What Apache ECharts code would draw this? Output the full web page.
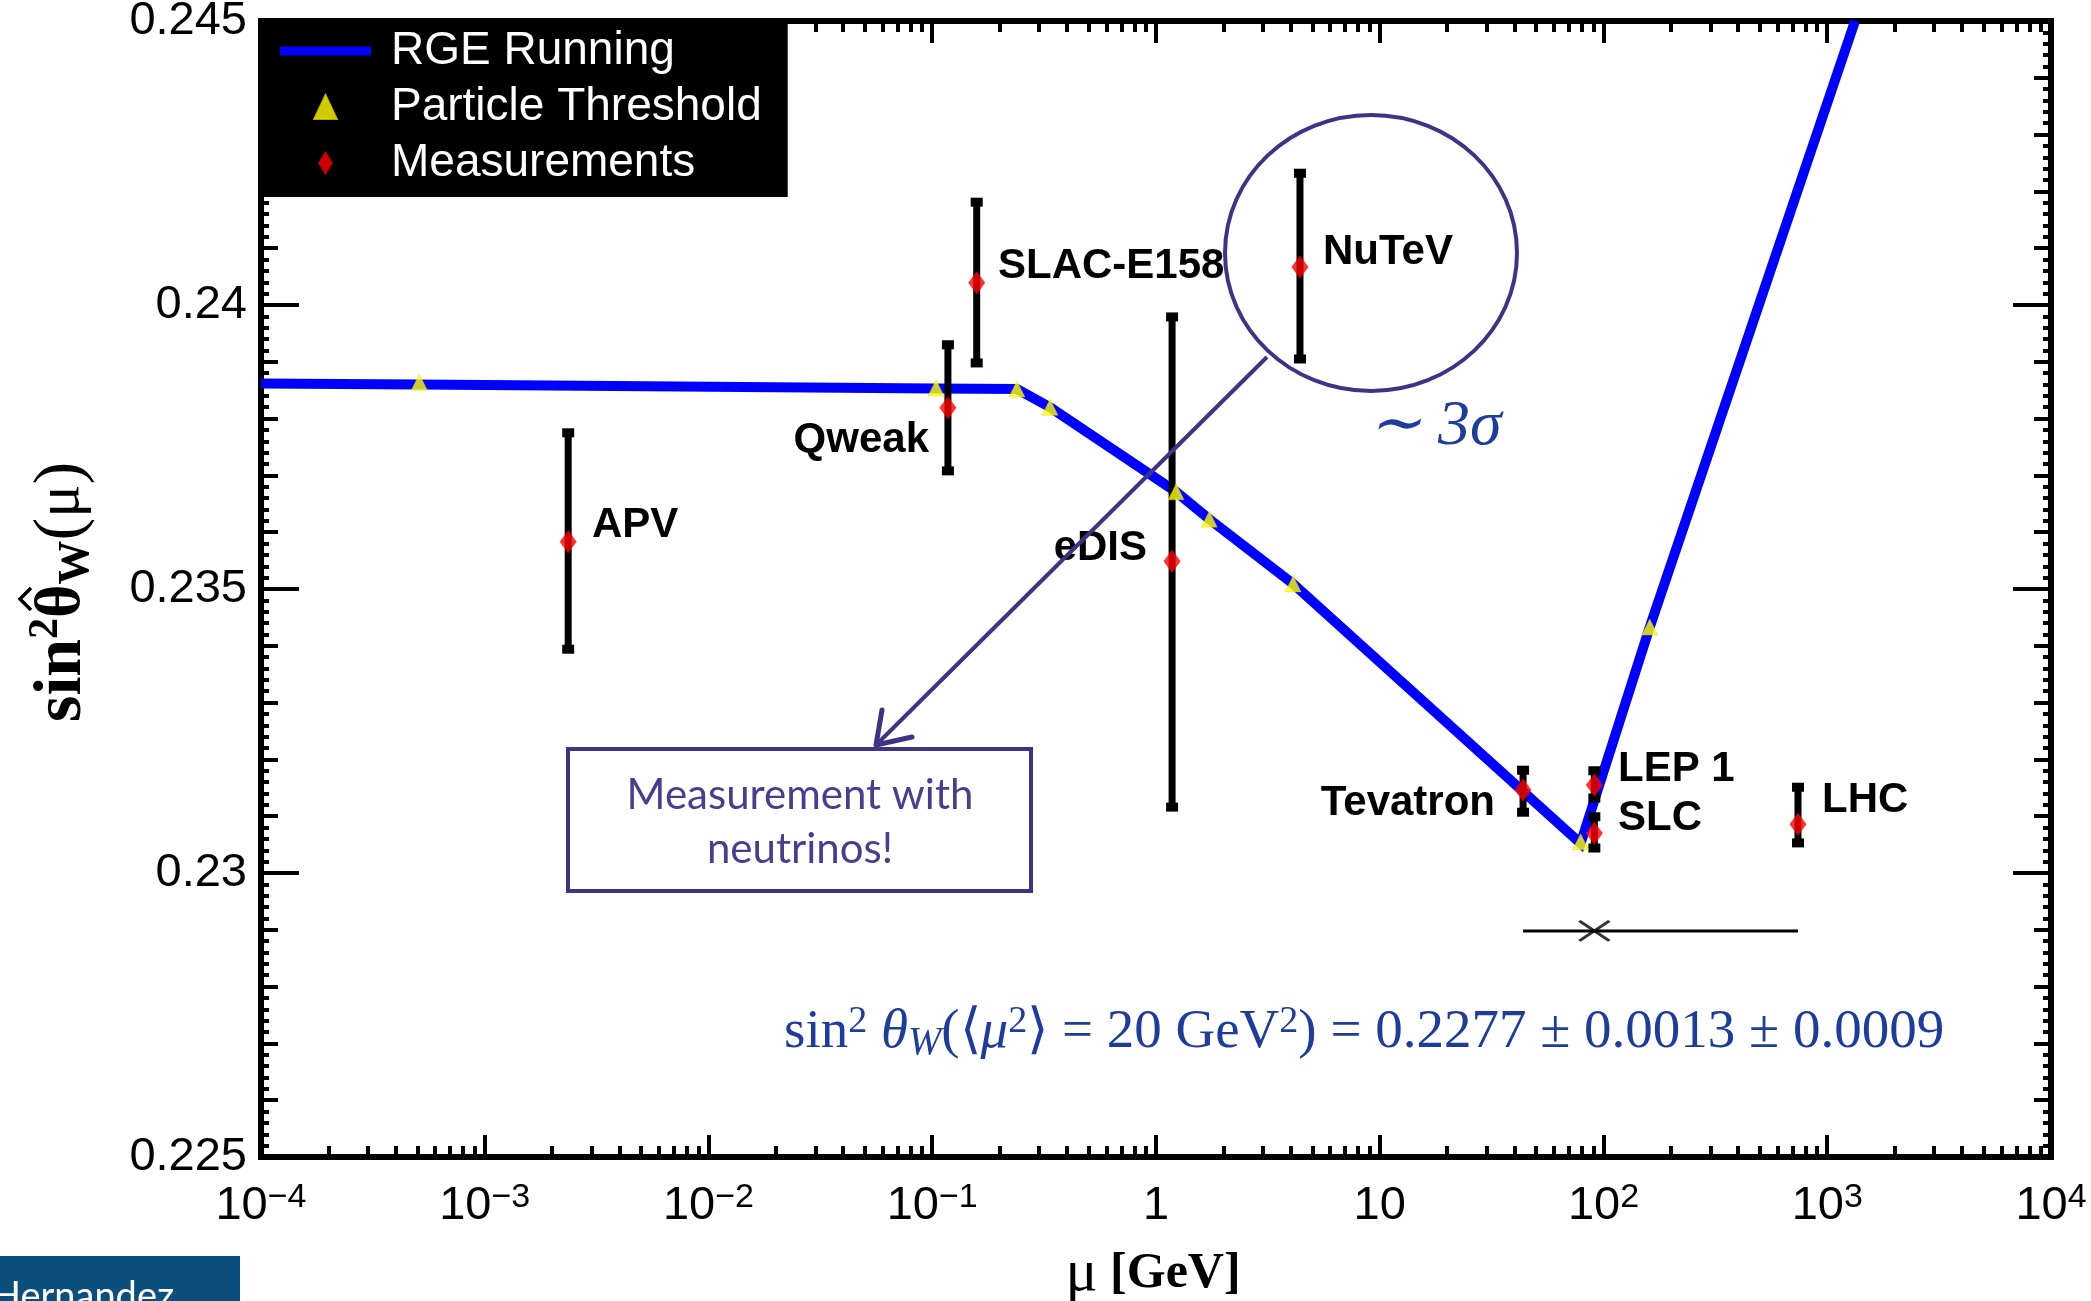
<!DOCTYPE html>
<html><head><meta charset="utf-8">
<script src="https://cdn.jsdelivr.net/npm/echarts@6/dist/echarts.min.js"></script>
<style>html,body{margin:0;padding:0;background:#fff}#c{width:2091px;height:1301px}</style>
</head><body><div id="c"></div>
<script>
// ---------- data ----------
const rgeMu  = [1e-4, 5.1e-4, 0.104, 0.239, 0.336, 1.23, 1.73, 4.1, 79, 161, 1331];
const rgeS2w = [0.23862, 0.23860, 0.23853, 0.23852, 0.23820, 0.23671, 0.23623, 0.23509, 0.23052, 0.23433, 0.245];
const thrMu  = [5.1e-4, 0.104, 0.239, 0.336, 1.23, 1.73, 4.1, 79, 161];
const thrS2w = [0.23864, 0.23854, 0.23852, 0.23820, 0.23671, 0.23623, 0.23509, 0.23055, 0.23433];
const measNames = ['APV', 'Qweak', 'SLAC-E158', 'eDIS', 'NuTeV', 'Tevatron', 'LEP 1', 'SLC', 'LHC'];
const measMu  = [0.00236, 0.1175, 0.158, 1.18, 4.40, 43.7, 91, 91, 740];
const measS2w = [0.23583, 0.23819, 0.24039, 0.23549, 0.24067, 0.23146, 0.23155, 0.23070, 0.23086];
const measLo  = [0.23394, 0.23708, 0.23898, 0.23116, 0.23905, 0.23107, 0.23132, 0.23044, 0.23053];
const measHi  = [0.23775, 0.23930, 0.24181, 0.23979, 0.24232, 0.23181, 0.23180, 0.23099, 0.23151];
const spanMu  = [43.7, 740];
const spanS2w = [0.22898, 0.22898];
const crossMu = [91];
const crossS2w = [0.22898];
const xTickLabels = ['10^−4', '10^−3', '10^−2', '10^−1', '1', '10', '10^2', '10^3', '10^4'];
const yTickLabels = ['0.225', '0.23', '0.235', '0.24', '0.245'];

// ---------- styling ----------
const SANS = "'Liberation Sans',Arial,Helvetica,sans-serif";
const SERIF = "'Liberation Serif','Times New Roman',serif";
const PURPLE = '#3f3386';
const FBLUE = '#1d3c9c';
// label placement per measurement: side, gap from centre, vertical shift
const labelSide = ['right', 'left', 'right', 'left', 'right', 'left', 'right', 'right', 'right'];
const labelGap  = [24, 19, 21, 25, 23, 28, 24, 24, 24];
const labelDy   = [-17, 32, -17, -13, -15, 13, -16, -15, -24];

const decades = [];
for (let e = -4; e <= 4; e++) decades.push(Math.pow(10, e));
const minorX = [];
for (let e = -4; e < 4; e++) for (let k = 2; k <= 9; k++) minorX.push(k * Math.pow(10, e));

const tickStyle = { color: '#000', width: 4 };
function xAxisDef(pos, ticks, len, labels) {
  return {
    type: 'log', logBase: 10, min: 1e-4, max: 1e4, position: pos,
    axisLine: { show: false, onZero: false },
    splitLine: { show: false },
    axisTick: { show: true, inside: true, length: len, lineStyle: tickStyle, customValues: ticks },
    axisLabel: labels ? {
      show: true, margin: 24, customValues: decades,
      formatter: function (v) {
        const i = Math.round(Math.log10(v)) + 4;
        const parts = xTickLabels[i].split('^');
        return parts.length > 1 ? '{b|' + parts[0] + '}{e|' + parts[1] + '}' : '{b|' + parts[0] + '}';
      },
      rich: {
        b: { fontSize: 47, fontFamily: SANS, color: '#000', lineHeight: 50 },
        e: { fontSize: 34, fontFamily: SANS, color: '#000', verticalAlign: 'top', lineHeight: 34, padding: [0, 0, 18, 0] }
      }
    } : { show: false }
  };
}
function yAxisDef(pos, interval, len, labels, minor) {
  return {
    type: 'value', min: 0.225, max: 0.245, interval: interval, position: pos,
    axisLine: { show: false, onZero: false },
    splitLine: { show: false },
    axisTick: { show: true, inside: true, length: len, lineStyle: tickStyle },
    minorTick: minor ? { show: true, splitNumber: 5, length: 8, lineStyle: tickStyle } : { show: false },
    axisLabel: labels ? {
      show: true, margin: 14, fontSize: 47, fontFamily: SANS, color: '#000',
      formatter: function (v) { return yTickLabels[Math.round((v - 0.225) / 0.005)]; }
    } : { show: false }
  };
}

const chart = echarts.init(document.getElementById('c'), null, { renderer: 'canvas' });

const option = {
  animation: false,
  backgroundColor: '#fff',
  grid: {
    left: 261, top: 21, right: 40, bottom: 144, containLabel: false, outerBoundsMode: 'none',
    show: true, borderColor: '#000', borderWidth: 6, backgroundColor: 'transparent'
  },
  legend: {
    left: 263, top: 20, orient: 'vertical', selectedMode: false,
    backgroundColor: '#000', borderWidth: 0, padding: [6, 26, 9, 17],
    itemWidth: 91, itemHeight: 24, itemGap: 6, symbolKeepAspect: true,
    textStyle: { color: '#fff', fontSize: 46, fontFamily: SANS, lineHeight: 50, padding: [0, 0, 0, 15] },
    data: [
      { name: 'RGE Running', icon: 'path://M0,0L91,0L91,9L0,9Z', itemStyle: { color: '#0000ff' } },
      { name: 'Particle Threshold', icon: 'path://M8,0L16,17L0,17Z', itemStyle: { color: '#ffff00' } },
      { name: 'Measurements', icon: 'path://M7,0L14,11.5L7,23L0,11.5Z', itemStyle: { color: '#ff0000' } }
    ]
  },
  xAxis: [
    xAxisDef('bottom', decades, 22, true),
    xAxisDef('bottom', minorX, 11, false),
    xAxisDef('top', decades, 22, false),
    xAxisDef('top', minorX, 11, false)
  ],
  yAxis: [
    yAxisDef('left', 0.005, 38, true, false),
    yAxisDef('left', 0.001, 17, false, true),
    yAxisDef('right', 0.005, 38, false, false),
    yAxisDef('right', 0.001, 17, false, true)
  ],
  series: [
    {
      name: 'RGE Running', type: 'line', xAxisIndex: 0, yAxisIndex: 0,
      data: rgeMu.map(function (m, i) { return [m, rgeS2w[i]]; }),
      symbol: 'none', showSymbol: false, clip: true, z: 2,
      lineStyle: { color: '#0000ff', width: 10, cap: 'butt', join: 'miter' },
      itemStyle: { color: '#0000ff' }
    },
    {
      name: 'span', type: 'line', xAxisIndex: 0, yAxisIndex: 0,
      data: spanMu.map(function (m, i) { return [m, spanS2w[i]]; }),
      symbol: 'none', lineStyle: { color: '#000', width: 3 }, z: 2, silent: true
    },
    {
      name: 'cross', type: 'scatter', xAxisIndex: 0, yAxisIndex: 0,
      data: crossMu.map(function (m, i) { return [m, crossS2w[i]]; }),
      symbol: 'path://M0,0L26,18M26,0L0,18', symbolSize: [30, 20], symbolKeepAspect: false,
      itemStyle: { color: 'none', borderColor: '#000', borderWidth: 3 }, z: 3, silent: true
    },
    {
      name: 'errbars', type: 'custom', xAxisIndex: 0, yAxisIndex: 0, z: 3, silent: true,
      data: measMu.map(function (m, i) { return [m, measLo[i], measHi[i], measS2w[i]]; }),
      encode: { x: 0, y: [1, 2] },
      renderItem: function (params, api) {
        const i = params.dataIndex;
        const x = api.value(0), lo = api.value(1), hi = api.value(2), c = api.value(3);
        const p1 = api.coord([x, lo]), p2 = api.coord([x, hi]), pc = api.coord([x, c]);
        const right = labelSide[i] === 'right';
        return {
          type: 'group', children: [
            { type: 'line', shape: { x1: p1[0], y1: p1[1], x2: p2[0], y2: p2[1] }, style: { stroke: '#000', lineWidth: 7 } },
            { type: 'rect', shape: { x: p1[0] - 6, y: p1[1] - 4.5, width: 12, height: 9 }, style: { fill: '#000' } },
            { type: 'rect', shape: { x: p2[0] - 6, y: p2[1] - 4.5, width: 12, height: 9 }, style: { fill: '#000' } },
            {
              type: 'text',
              x: Math.round(pc[0] + (right ? labelGap[i] : -labelGap[i])),
              y: Math.round(pc[1] + labelDy[i]),
              style: {
                text: measNames[i], fill: '#000000', fontSize: 42, fontWeight: 'bold', fontFamily: SANS,
                align: right ? 'left' : 'right', verticalAlign: 'middle'
              }
            }
          ]
        };
      }
    },
    {
      name: 'Particle Threshold', type: 'scatter', xAxisIndex: 0, yAxisIndex: 0, z: 4,
      data: thrMu.map(function (m, i) { return [m, thrS2w[i]]; }),
      symbol: 'triangle', symbolSize: [16, 16],
      itemStyle: { color: '#ffff00', borderColor: '#e0d000', borderWidth: 0.5 }
    },
    {
      name: 'Measurements', type: 'scatter', xAxisIndex: 0, yAxisIndex: 0, z: 5,
      data: measMu.map(function (m, i) { return { name: measNames[i], value: [m, measS2w[i]] }; }),
      symbol: 'diamond', symbolSize: [17, 23],
      itemStyle: { color: '#ff0000' }
    }
  ],
  graphic: [
    // y axis title
    {
      type: 'text', x: 62, y: 592, rotation: Math.PI / 2, z: 10,
      style: {
        text: '{n|sin}{s|2}{t|θ}{w|W}{p|(}{m|μ}{p|)}',
        align: 'center', verticalAlign: 'middle',
        rich: {
          n: { fontSize: 68, fontWeight: 'bold', fontFamily: SERIF, fill: '#000', lineHeight: 74 },
          t: { fontSize: 64, fontWeight: 'bold', fontFamily: SERIF, fill: '#000', lineHeight: 74 },
          s: { fontSize: 42, fontWeight: 'bold', fontFamily: SERIF, fill: '#000', verticalAlign: 'top', lineHeight: 42 },
          w: { fontSize: 44, fontWeight: 'bold', fontFamily: SERIF, fill: '#000', verticalAlign: 'bottom', lineHeight: 38 },
          p: { fontSize: 68, fontFamily: SERIF, fill: '#000', lineHeight: 74 },
          m: { fontSize: 62, fontFamily: SERIF, fill: '#000', lineHeight: 74 }
        }
      }
    },
    // circumflex over theta
    { type: 'polyline', z: 10, shape: { points: [[31, 588], [20, 599], [31, 610]] }, style: { stroke: '#000', lineWidth: 3.5, fill: 'none' } },
    // x axis title
    {
      type: 'text', x: 1153, y: 1274, z: 10,
      style: {
        text: '{m|μ}{n| [GeV]}', align: 'center', verticalAlign: 'middle',
        rich: {
          m: { fontSize: 60, fontFamily: SERIF, fill: '#000' },
          n: { fontSize: 50, fontWeight: 'bold', fontFamily: SERIF, fill: '#000' }
        }
      }
    },
    // NuTeV circle
    { type: 'ellipse', shape: { cx: 1371, cy: 253, rx: 146, ry: 138 }, style: { fill: 'none', stroke: PURPLE, lineWidth: 4 }, z: 10 },
    // arrow
    { type: 'polyline', shape: { points: [[1267, 357], [876, 745]] }, style: { stroke: PURPLE, lineWidth: 4, fill: 'none' }, z: 10 },
    { type: 'polyline', shape: { points: [[882, 710], [876, 745], [912, 737]] }, style: { stroke: PURPLE, lineWidth: 5, fill: 'none', lineJoin: 'round', lineCap: 'round' }, z: 10 },
    // note box
    { type: 'rect', shape: { x: 568, y: 749, width: 463, height: 142 }, style: { fill: 'none', stroke: PURPLE, lineWidth: 4 }, z: 10 },
    { type: 'text', x: 800, y: 795, z: 10, style: { text: 'Measurement with', fontSize: 42, fontFamily: "Lato,'Open Sans',sans-serif", fill: '#4a3d8f', align: 'center', verticalAlign: 'middle' } },
    { type: 'text', x: 800, y: 849, z: 10, style: { text: 'neutrinos!', fontSize: 42, fontFamily: "Lato,'Open Sans',sans-serif", fill: '#4a3d8f', align: 'center', verticalAlign: 'middle' } },
    // ~3 sigma
    { type: 'text', x: 1368, y: 427, z: 10, style: { text: '∼ 3σ', fontSize: 64, fontStyle: 'italic', fontFamily: SERIF, fill: FBLUE, align: 'left', verticalAlign: 'middle' } },
    // formula
    {
      type: 'text', x: 784, y: 1033, z: 10,
      style: {
        text: '{r|sin}{u|2}{r| }{i|θ}{d|W}{r|(⟨}{i|μ}{u|2}{r|⟩ = 20 GeV}{u|2}{r|) = 0.2277 ± 0.0013 ± 0.0009}',
        align: 'left', verticalAlign: 'middle',
        rich: {
          r: { fontSize: 55, fontFamily: SERIF, fill: FBLUE, lineHeight: 60 },
          i: { fontSize: 55, fontStyle: 'italic', fontFamily: SERIF, fill: FBLUE, lineHeight: 60 },
          u: { fontSize: 38, fontFamily: SERIF, fill: FBLUE, verticalAlign: 'top', lineHeight: 36 },
          d: { fontSize: 40, fontStyle: 'italic', fontFamily: SERIF, fill: FBLUE, verticalAlign: 'bottom', lineHeight: 30 }
        }
      }
    },
    // footer tag
    { type: 'rect', shape: { x: 0, y: 1256, width: 240, height: 45 }, style: { fill: '#0b4f7d' }, z: 10 },
    { type: 'text', x: -8, y: 1278, z: 11, style: { text: 'Hernandez', fontSize: 38, fontFamily: "Lato,'Open Sans',sans-serif", fill: '#fff', align: 'left', verticalAlign: 'top' } }
  ]
};
chart.setOption(option);
</script></body></html>
